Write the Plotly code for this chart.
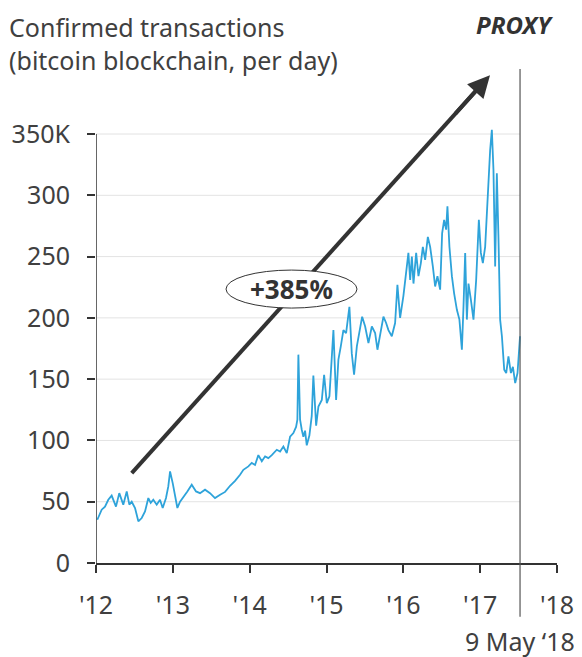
import plotly.graph_objects as go

# ---- data (decimal year, thousand transactions per day) ----
years = [2012.017, 2012.074, 2012.117, 2012.160, 2012.204, 2012.234, 2012.260, 2012.303, 2012.355, 2012.400,
         2012.434, 2012.465, 2012.508, 2012.551, 2012.595, 2012.638, 2012.681, 2012.712, 2012.746, 2012.790,
         2012.833, 2012.868, 2012.911, 2012.941, 2012.964, 2012.999, 2013.029, 2013.059, 2013.094, 2013.137,
         2013.189, 2013.246, 2013.302, 2013.354, 2013.419, 2013.484, 2013.549, 2013.615, 2013.680, 2013.745,
         2013.810, 2013.875, 2013.918, 2013.983, 2014.027, 2014.070, 2014.113, 2014.158, 2014.201, 2014.243,
         2014.288, 2014.353, 2014.396, 2014.439, 2014.483, 2014.526, 2014.569, 2014.604, 2014.621, 2014.634,
         2014.656, 2014.678, 2014.699, 2014.721, 2014.743, 2014.777, 2014.808, 2014.829, 2014.865, 2014.895,
         2014.939, 2014.969, 2015.004, 2015.038, 2015.090, 2015.125, 2015.155, 2015.186, 2015.220, 2015.255,
         2015.298, 2015.329, 2015.359, 2015.395, 2015.428, 2015.464, 2015.503, 2015.546, 2015.590, 2015.633,
         2015.663, 2015.707, 2015.741, 2015.776, 2015.806, 2015.850, 2015.893, 2015.923, 2015.958, 2016.001,
         2016.046, 2016.066, 2016.089, 2016.111, 2016.132, 2016.167, 2016.197, 2016.228, 2016.254, 2016.284,
         2016.319, 2016.349, 2016.384, 2016.414, 2016.444, 2016.479, 2016.505, 2016.531, 2016.557, 2016.574,
         2016.600, 2016.632, 2016.661, 2016.697, 2016.730, 2016.762, 2016.783, 2016.805, 2016.827, 2016.848,
         2016.879, 2016.913, 2016.948, 2016.983, 2017.009, 2017.035, 2017.065, 2017.095, 2017.113, 2017.130,
         2017.152, 2017.173, 2017.195, 2017.217, 2017.238, 2017.260, 2017.283, 2017.313, 2017.339, 2017.368,
         2017.400, 2017.426, 2017.456, 2017.486, 2017.519]
tx_k = [35.3, 43.5, 46.0, 51.6, 55.0, 50.0, 46.0, 57.0, 47.6, 58.4,
        47.6, 50.0, 44.9, 34.0, 36.7, 42.0, 53.0, 49.0, 51.6, 47.6,
        51.6, 44.9, 53.0, 62.5, 74.7, 65.0, 54.3, 44.9, 50.0, 54.3,
        58.4, 63.9, 58.4, 57.0, 59.8, 57.0, 53.0, 55.7, 58.0, 63.0,
        67.0, 72.0, 76.0, 78.8, 81.6, 80.0, 88.0, 83.0, 87.0, 85.6,
        88.0, 92.4, 91.0, 95.0, 89.7, 103.0, 106.0, 111.0, 117.0, 170.0,
        117.0, 108.7, 103.0, 108.0, 96.0, 104.0, 120.0, 153.0, 112.0, 127.7,
        133.0, 153.6, 130.5, 136.0, 190.0, 133.0, 166.0, 176.7, 190.0, 187.6,
        209.0, 171.0, 153.6, 176.7, 187.6, 201.0, 193.0, 179.5, 193.0, 187.6,
        174.0, 190.0, 201.0, 195.8, 190.0, 185.0, 195.8, 227.0, 200.0, 218.0,
        240.0, 253.0, 231.0, 250.0, 228.0, 253.0, 234.0, 244.7, 258.0, 247.4,
        266.0, 258.0, 242.0, 225.6, 234.0, 223.0, 269.0, 280.0, 272.0, 291.0,
        258.0, 234.0, 220.0, 206.6, 198.6, 174.0, 209.0, 253.0, 198.6, 228.0,
        214.8, 198.6, 231.0, 280.0, 253.0, 244.7, 258.0, 293.6, 320.8, 337.0,
        353.4, 320.8, 242.0, 318.0, 266.0, 198.6, 185.0, 157.7, 155.0, 168.5,
        155.0, 160.0, 146.8, 155.0, 185.0]

year_ticks = [2012, 2013, 2014, 2015, 2016, 2017, 2018]
year_labels = ["'12", "'13", "'14", "'15", "'16", "'17", "'18"]
y_ticks = [0, 50, 100, 150, 200, 250, 300, 350]
y_labels = ["0", "50", "100", "150", "200", "250", "300", "350K"]

end_date = years[-1]          # 9 May '18 marker position
arrow_start = (2012.465, 73.4)
arrow_end = (2017.128, 398.0)
badge_x = (2013.692, 2015.397)
badge_y = (208.0, 239.0)
badge_text = "+385%"
title_lines = ["Confirmed transactions", "(bitcoin blockchain, per day)"]

FONT = "Noto Sans"
TXT = "#404040"
BLUE = "#2ea3da"
DARK = "#333333"

fig = go.Figure()
fig.add_trace(go.Scatter(x=years, y=tx_k, mode="lines",
                         line=dict(color=BLUE, width=1.8), hoverinfo="skip",
                         showlegend=False))

shapes = []
# gridlines (stop at the end-date line)
for v in y_ticks[1:]:
    shapes.append(dict(type="line", xref="x", yref="y", x0=year_ticks[0], x1=end_date,
                       y0=v, y1=v, line=dict(color="#e3e3e3", width=1), layer="below"))
# y axis line (only up to top tick)
shapes.append(dict(type="line", xref="x", yref="y", x0=year_ticks[0], x1=year_ticks[0],
                   y0=0, y1=y_ticks[-1], line=dict(color=DARK, width=1.5), layer="above"))
# arrow shaft
shapes.append(dict(type="line", xref="x", yref="y", x0=arrow_start[0], y0=arrow_start[1],
                   x1=arrow_start[0] + (arrow_end[0] - arrow_start[0]) * 0.96,
                   y1=arrow_start[1] + (arrow_end[1] - arrow_start[1]) * 0.96,
                   line=dict(color=DARK, width=4), layer="above"))
# badge ellipse
shapes.append(dict(type="circle", xref="x", yref="y", x0=badge_x[0], x1=badge_x[1],
                   y0=badge_y[0], y1=badge_y[1], fillcolor="white",
                   line=dict(color=DARK, width=1), layer="above"))
# end-date vertical line
shapes.append(dict(type="line", xref="x", yref="paper", x0=end_date, x1=end_date,
                   y0=-0.107, y1=0.982, line=dict(color="#555555", width=1.2)))

annotations = [
    dict(x=arrow_end[0], y=arrow_end[1], xref="x", yref="y",
         ax=arrow_start[0] + (arrow_end[0] - arrow_start[0]) * 0.90,
         ay=arrow_start[1] + (arrow_end[1] - arrow_start[1]) * 0.90,
         axref="x", ayref="y", text="", showarrow=True, arrowhead=2,
         arrowsize=1.1, arrowwidth=4, arrowcolor=DARK),
    dict(x=(badge_x[0] + badge_x[1]) / 2, y=(badge_y[0] + badge_y[1]) / 2,
         xref="x", yref="y", text="<b>" + badge_text + "</b>", showarrow=False,
         font=dict(family=FONT, size=26, color=DARK)),
    dict(x=end_date, y=-0.155, xref="x", yref="paper", text="9 May ‘18",
         showarrow=False, xanchor="center", yanchor="middle",
         font=dict(family=FONT, size=25, color=TXT)),
    dict(x=-0.191, y=1.1014, xref="paper", yref="paper", text="<br>".join(title_lines),
         showarrow=False, xanchor="left", yanchor="top", align="left", borderpad=0,
         font=dict(family=FONT, size=25, color=TXT)),
    dict(x=0.993, y=1.0696, xref="paper", yref="paper", text="<b><i>PROXY</i></b>",
         showarrow=False, xanchor="right", yanchor="middle", borderpad=0,
         font=dict(family=FONT, size=24, color=DARK)),
]

# page body adds an 8px offset, so the figure is drawn 8px smaller
fig.update_layout(
    width=574, height=649,
    margin=dict(l=88, r=25, t=52, b=94, autoexpand=False),
    plot_bgcolor="white", paper_bgcolor="white",
    shapes=shapes, annotations=annotations,
    showlegend=False,
    xaxis=dict(range=[2012, 2018], tickvals=year_ticks, ticktext=year_labels,
               automargin=False,
               showgrid=False, zeroline=False, showline=True, linecolor=DARK, linewidth=1.5,
               ticks="outside", ticklen=8, tickwidth=1.5, tickcolor=DARK,
               ticklabelstandoff=11,
               tickfont=dict(family=FONT, size=25, color=TXT)),
    yaxis=dict(range=[0, 410.4], tickvals=y_ticks, ticktext=y_labels,
               automargin=False,
               showgrid=False, zeroline=False, showline=False,
               ticks="outside", ticklen=8, tickwidth=1.5, tickcolor=DARK,
               ticklabelstandoff=12,
               tickfont=dict(family=FONT, size=25, color=TXT)),
)

fig.write_html("out.html")
